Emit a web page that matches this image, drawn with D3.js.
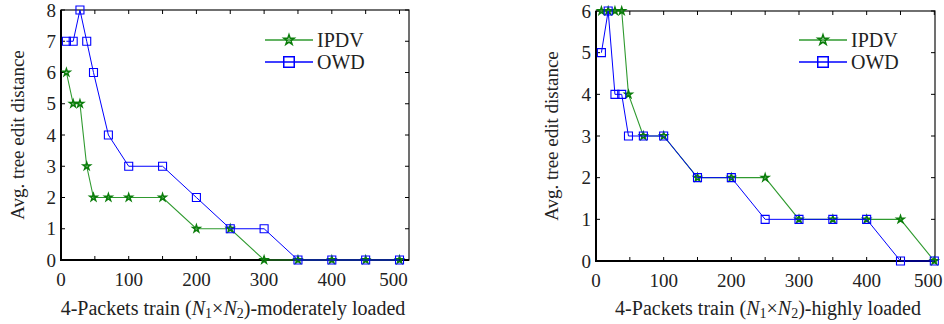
<!DOCTYPE html>
<html>
<head>
<meta charset="utf-8">
<script src="https://cdn.jsdelivr.net/npm/d3@7"></script>
<style>
  body { margin: 0; background: #fff; }
  svg { display: block; }
</style>
</head>
<body>
<svg id="chart" width="944" height="324"></svg>
<script>
// x positions (N1 x N2)
const xModerate = [8, 18, 28, 38, 48, 70, 100, 150, 200, 250, 300, 350, 400, 450, 500];
const ipdvModerate = [6, 5, 5, 3, 2, 2, 2, 2, 1, 1, 0, 0, 0, 0, 0];
const owdModerate = [7, 7, 8, 7, 6, 4, 3, 3, 2, 1, 1, 0, 0, 0, 0];

const xHigh = [8, 18, 28, 38, 48, 70, 100, 150, 200, 250, 300, 350, 400, 450, 500];
const ipdvHigh = [6, 6, 6, 6, 4, 3, 3, 2, 2, 2, 1, 1, 1, 1, 0];
const owdHigh = [5, 6, 4, 4, 3, 3, 3, 2, 2, 1, 1, 1, 1, 0, 0];

const seriesNames = ["IPDV", "OWD"];
const xTickLabels = [0, 100, 200, 300, 400, 500];

const serif = "'Liberation Serif', 'Times New Roman', Times, 'DejaVu Serif', serif";
const green = "#0a7d0a", greenLine = "#2f9a2f", blue = "#0000ff";

const svg = d3.select("#chart");

function txt(g) {
    return g.append("text").attr("font-family", serif).attr("fill", "#222");
}

function panel(opt) {
    var g = svg.append("g");
    var x = d3.scaleLinear([0, opt.xMax], [opt.left, opt.right]);
    var y = d3.scaleLinear([0, opt.yMax], [opt.bottom, opt.top]);

    // frame
    g.append("rect")
        .attr("x", opt.left).attr("y", opt.top)
        .attr("width", opt.right - opt.left).attr("height", opt.bottom - opt.top)
        .attr("fill", "none").attr("stroke", "#111").attr("stroke-width", 1.2);
    g.append("path")
        .attr("d", `M${opt.left},${opt.top}V${opt.bottom}H${opt.right}`)
        .attr("fill", "none").attr("stroke", "#000").attr("stroke-width", 2);

    // inward ticks
    var xt = d3.range(0, 501, 50);
    var yt = d3.range(0, opt.yMax + 1, 1);
    xt.forEach(function(v) {
        g.append("line").attr("x1", x(v)).attr("x2", x(v))
            .attr("y1", opt.bottom).attr("y2", opt.bottom - 4).attr("stroke", "#000");
        g.append("line").attr("x1", x(v)).attr("x2", x(v))
            .attr("y1", opt.top).attr("y2", opt.top + 4).attr("stroke", "#000");
    });
    yt.forEach(function(v) {
        g.append("line").attr("x1", opt.left).attr("x2", opt.left + 4)
            .attr("y1", y(v)).attr("y2", y(v)).attr("stroke", "#000");
        g.append("line").attr("x1", opt.right).attr("x2", opt.right - 4)
            .attr("y1", y(v)).attr("y2", y(v)).attr("stroke", "#000");
        txt(g).attr("x", opt.left - 5).attr("y", y(v)).attr("dy", "0.35em")
            .attr("text-anchor", "end").attr("font-size", 19)
            .text(v);
    });
    xTickLabels.forEach(function(v) {
        txt(g).attr("x", x(v)).attr("dx", v == 500 ? -6 : 0).attr("y", opt.bottom + 26)
            .attr("text-anchor", "middle").attr("font-size", 19)
            .text(v);
    });

    // axis titles
    txt(g).attr("transform", `translate(${opt.ylabX},${(opt.top + opt.bottom) / 2}) rotate(-90)`)
        .attr("text-anchor", "middle").attr("font-size", 19)
        .text("Avg. tree edit distance");

    var xl = txt(g).attr("x", opt.xlabX).attr("y", 315)
        .attr("text-anchor", "middle").attr("font-size", 20);
    xl.append("tspan").text("4-Packets train (");
    xl.append("tspan").attr("font-style", "italic").text("N");
    xl.append("tspan").attr("font-size", 14).attr("dy", 3).text("1");
    xl.append("tspan").attr("dy", -3).text("\u00d7");
    xl.append("tspan").attr("font-style", "italic").text("N");
    xl.append("tspan").attr("font-size", 14).attr("dy", 3).text("2");
    xl.append("tspan").attr("dy", -3).text(")-" + opt.load);

    var line = d3.line().x(d => x(d[0])).y(d => y(d[1]));
    var star = d3.symbol().type(d3.symbolStar).size(16);
    var square = d3.symbol().type(d3.symbolSquare).size(64);

    var ipdv = opt.xs.map((v, i) => [v, opt.ipdv[i]]);
    var owd = opt.xs.map((v, i) => [v, opt.owd[i]]);

    // IPDV
    g.append("path").attr("d", line(ipdv))
        .attr("fill", "none").attr("stroke", greenLine).attr("stroke-width", 1.1);
    g.selectAll(".star").data(ipdv).join("path")
        .attr("class", "star")
        .attr("transform", d => `translate(${x(d[0])},${y(d[1])})`)
        .attr("d", star).attr("fill", "none").attr("stroke", green).attr("stroke-width", 1.5);

    // OWD
    g.append("path").attr("d", line(owd))
        .attr("fill", "none").attr("stroke", blue).attr("stroke-width", 1);
    g.selectAll(".sq").data(owd).join("path")
        .attr("class", "sq")
        .attr("transform", d => `translate(${x(d[0])},${y(d[1])})`)
        .attr("d", square).attr("fill", "none").attr("stroke", blue).attr("stroke-width", 1.1);

    // legend
    var lx1 = opt.legX, lx2 = opt.legX + 48, lm = (lx1 + lx2) / 2;
    [[40, greenLine, green, d3.symbol().type(d3.symbolStar).size(32)],
     [62, blue, blue, d3.symbol().type(d3.symbolSquare).size(110)]].forEach(function(s, i) {
        g.append("line").attr("x1", lx1).attr("x2", lx2).attr("y1", s[0]).attr("y2", s[0])
            .attr("stroke", s[1]).attr("stroke-width", 1.3);
        g.append("path").attr("transform", `translate(${lm},${s[0]})`)
            .attr("d", s[3]).attr("fill", "none").attr("stroke", s[2]).attr("stroke-width", 1.5);
        txt(g).attr("x", lx2 + 4).attr("y", s[0]).attr("dy", "0.35em")
            .attr("font-size", 20).text(seriesNames[i]);
    });
}

panel({left: 61, right: 409, top: 10, bottom: 260, xMax: 514, yMax: 8,
       xs: xModerate, ipdv: ipdvModerate, owd: owdModerate,
       ylabX: 24, xlabX: 233, load: "moderately loaded", legX: 265});
panel({left: 596, right: 935, top: 11, bottom: 261, xMax: 501, yMax: 6,
       xs: xHigh, ipdv: ipdvHigh, owd: owdHigh,
       ylabX: 558, xlabX: 768, load: "highly loaded", legX: 799});
</script>
</body>
</html>
